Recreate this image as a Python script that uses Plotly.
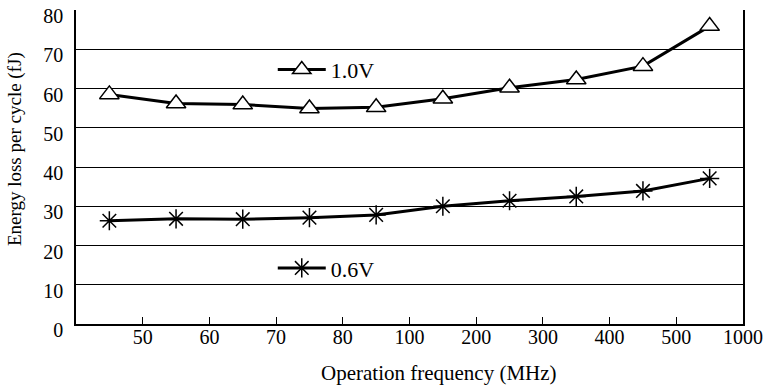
import plotly.graph_objects as go

# category positions (points sit between the tick marks)
x_pos = [0.5, 1.5, 2.5, 3.5, 4.5, 5.5, 6.5, 7.5, 8.5, 9.5]
tick_pos = [1, 2, 3, 4, 5, 6, 7, 8, 9, 10]
tick_labels = ["50", "60", "70", "80", "100", "200", "300", "400", "500", "1000"]

energy_1v0 = [58.5, 56.2, 55.9, 54.9, 55.2, 57.4, 60.2, 62.3, 65.7, 75.9]
energy_0v6 = [26.3, 26.8, 26.7, 27.1, 27.8, 30.0, 31.4, 32.5, 33.9, 37.1]

FONT = "'Liberation Serif', 'Times New Roman', 'DejaVu Serif', serif"

fig = go.Figure()

fig.add_trace(go.Scatter(
    x=x_pos, y=energy_1v0, name="1.0V", mode="lines+markers",
    line=dict(color="black", width=3),
    marker=dict(symbol="triangle-up", size=17, color="white",
                line=dict(color="black", width=1.5)),
    legend="legend",
))
fig.add_trace(go.Scatter(
    x=x_pos, y=energy_0v6, name="0.6V", mode="lines+markers",
    line=dict(color="black", width=3),
    marker=dict(symbol="asterisk-open", size=16,
                line=dict(color="black", width=1.5)),
    legend="legend2",
))

legend_style = dict(
    bgcolor="rgba(0,0,0,0)", borderwidth=0,
    font=dict(family=FONT, size=22, color="black"),
    xanchor="left", yanchor="middle", itemwidth=48,
)

fig.update_layout(
    width=767, height=391,
    margin=dict(l=76, r=24, t=10, b=67, autoexpand=False),
    plot_bgcolor="white", paper_bgcolor="white",
    font=dict(family=FONT, size=20, color="black"),
    showlegend=True,
    legend=dict(x=0.295, y=0.81, **legend_style),
    legend2=dict(x=0.295, y=0.178, **legend_style),
    annotations=[
        dict(text="Operation frequency (MHz)", xref="paper", yref="paper",
             x=0.544, y=-0.156, xanchor="center", yanchor="middle",
             showarrow=False, font=dict(family=FONT, size=21)),
        dict(text="Energy loss per cycle (fJ)", xref="paper", yref="paper",
             x=-0.0915, y=0.557, xanchor="center", yanchor="middle",
             textangle=-90, showarrow=False, font=dict(family=FONT, size=19)),
    ],
)

fig.update_xaxes(
    range=[0, 10], tickvals=tick_pos, ticktext=tick_labels,
    showgrid=False, zeroline=False, automargin=False,
    showline=True, linecolor="black", linewidth=1.5,
    ticks="inside", ticklen=7, tickcolor="black", tickwidth=1,
    ticklabelstandoff=-6, ticklabeloverflow="allow",
)
fig.update_yaxes(
    range=[0, 80], dtick=10, tick0=0,
    showgrid=True, gridcolor="black", gridwidth=1,
    zeroline=False, automargin=False,
    showline=True, mirror=True, linecolor="black", linewidth=1.5,
    ticks="", ticklabelstandoff=7, ticklabelshift=6,
    ticklabeloverflow="allow",
)

fig.write_html("out.html", config={"displayModeBar": False},
               post_script="document.body.style.margin='0';")
